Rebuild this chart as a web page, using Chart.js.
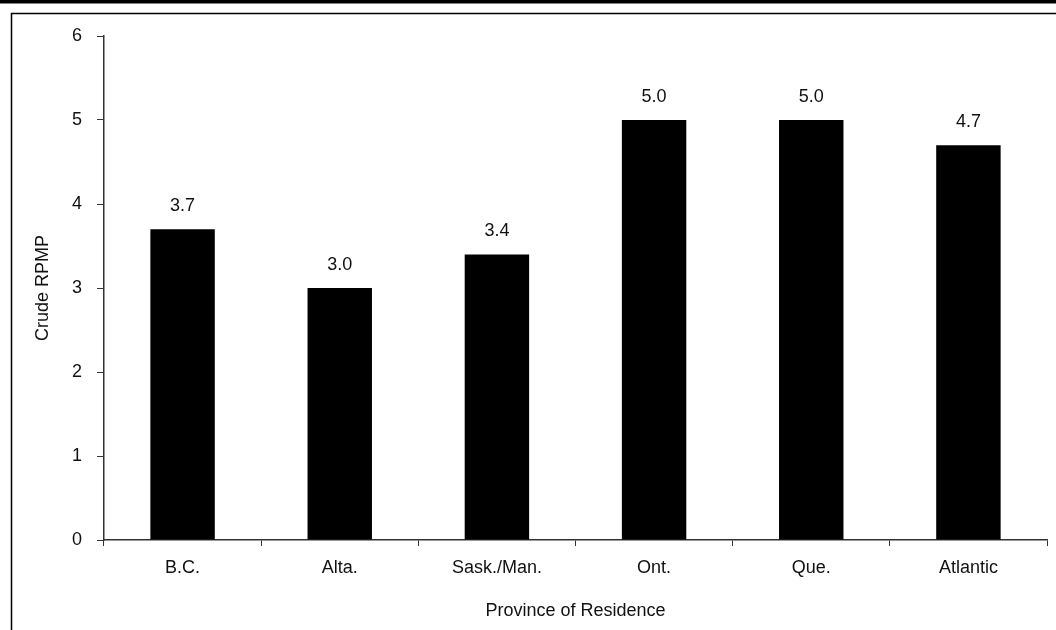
<!DOCTYPE html>
<html>
<head>
<meta charset="utf-8">
<script src="https://cdn.jsdelivr.net/npm/chart.js@4/dist/chart.umd.min.js"></script>
<style>
  html, body { margin: 0; padding: 0; background: #fff; }
  #wrap { position: relative; width: 1056px; height: 630px; }
</style>
</head>
<body>
<div id="wrap"><canvas id="c" width="1056" height="630"></canvas></div>
<script>
const provinces = ['B.C.', 'Alta.', 'Sask./Man.', 'Ont.', 'Que.', 'Atlantic'];
const crudeRpmp = [3.7, 3.0, 3.4, 5.0, 5.0, 4.7];
const yTicks = [0, 1, 2, 3, 4, 5, 6];

const FONT = 'Arial, "Liberation Sans", sans-serif';
const FONT_SIZE = 18;

// Page frame: heavy rule on top, thin rule below it and down the left side
const framePlugin = {
  id: 'frame',
  beforeDraw(chart) {
    const ctx = chart.ctx;
    ctx.save();
    ctx.fillStyle = '#000';
    ctx.fillRect(0, 0, chart.width, 3.5);
    ctx.strokeStyle = '#000';
    ctx.lineWidth = 1.5;
    ctx.beginPath();
    ctx.moveTo(11.5, chart.height);
    ctx.lineTo(11.5, 13.5);
    ctx.lineTo(chart.width, 13.5);
    ctx.stroke();
    ctx.restore();
  }
};

// Value labels above each bar
const valueLabels = {
  id: 'valueLabels',
  afterDatasetsDraw(chart) {
    const ctx = chart.ctx;
    const meta = chart.getDatasetMeta(0);
    ctx.save();
    ctx.fillStyle = '#111';
    ctx.font = FONT_SIZE + 'px ' + FONT;
    ctx.textAlign = 'center';
    ctx.textBaseline = 'middle';
    meta.data.forEach((bar, i) => {
      const v = chart.data.datasets[0].data[i];
      ctx.fillText(v.toFixed(1), bar.x, bar.y - 23);
    });
    ctx.restore();
  }
};

new Chart(document.getElementById('c'), {
  type: 'bar',
  data: {
    labels: provinces,
    datasets: [{
      data: crudeRpmp,
      backgroundColor: '#000',
      borderWidth: 0,
      barPercentage: 0.41,
      categoryPercentage: 1.0
    }]
  },
  options: {
    responsive: false,
    animation: false,
    events: [],
    layout: { padding: { left: 32, right: 9, top: 36, bottom: 8 } },
    plugins: {
      legend: { display: false },
      tooltip: { enabled: false }
    },
    scales: {
      x: {
        offset: true,
        grid: {
          offset: true,
          drawOnChartArea: false,
          drawTicks: true,
          tickLength: 6,
          color: '#333',
          lineWidth: 1
        },
        border: { color: '#333', width: 1.5 },
        ticks: {
          color: '#111',
          font: { family: FONT, size: FONT_SIZE },
          padding: 11,
          maxRotation: 0,
          autoSkip: false
        },
        title: {
          display: true,
          text: 'Province of Residence',
          color: '#111',
          font: { family: FONT, size: FONT_SIZE },
          padding: 0
        },
        afterFit(scale) { scale.height = 82; }
      },
      y: {
        min: 0,
        max: 6,
        afterBuildTicks(scale) { scale.ticks = yTicks.map(v => ({ value: v })); },
        grid: {
          drawOnChartArea: false,
          drawTicks: true,
          tickLength: 7,
          color: '#333',
          lineWidth: 1
        },
        border: { color: '#333', width: 1.5 },
        ticks: {
          color: '#111',
          font: { family: FONT, size: FONT_SIZE },
          padding: 15
        },
        title: {
          display: true,
          text: 'Crude RPMP',
          color: '#111',
          font: { family: FONT, size: FONT_SIZE },
          padding: 0
        },
        afterFit(scale) { scale.width = 72; }
      }
    }
  },
  plugins: [framePlugin, valueLabels]
});
</script>
</body>
</html>
